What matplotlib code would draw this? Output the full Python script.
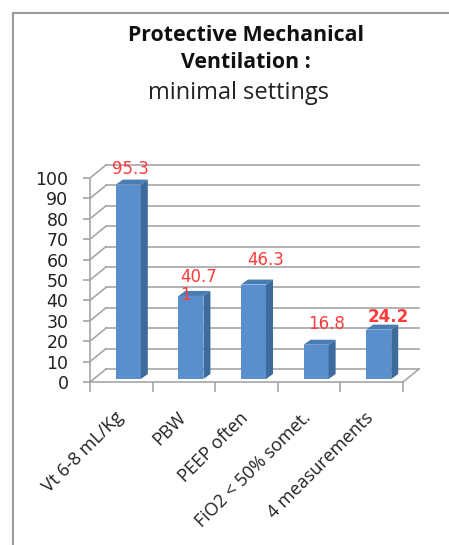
import matplotlib
matplotlib.use("Agg")
import matplotlib.pyplot as plt
from matplotlib.transforms import Affine2D, IdentityTransform
from matplotlib.patches import Polygon
from matplotlib.lines import Line2D
import numpy as np

plt.rcParams['font.family'] = ['Open Sans', 'DejaVu Sans']
NUM_FONT = ['DejaVu Sans']

# ---- data ----
categories = ["Vt 6-8 mL/Kg", "PBW", "PEEP often", "FiO2 < 50% somet.", "4 measurements"]
values = [95.3, 40.71, 46.3, 16.8, 24.2]
label_texts = ["95.3", "40.7\n1", "46.3", "16.8", "24.2"]
y_ticks = [0, 10, 20, 30, 40, 50, 60, 70, 80, 90, 100]
title_lines = ["Protective Mechanical", "Ventilation :", "minimal settings"]

# ---- style ----
W, H, DPI = 449, 545, 100
FRONT_COL = "#5A8FCE"
SIDE_COL = "#3D6B9C"
TOP_COL = "#4A7CB4"
GRID_COL = "#A6A6A6"
LABEL_COL = "#FF3B3B"
WALL_D = (16, 13)      # depth of side wall / floor in px
BAR_OFF = (7, 3)       # front face offset in px
BAR_D = (7, 5)         # bar depth in px
BAR_W = 0.4
# label offsets (px) relative to top-centre of bar front face; ha; weight
label_style = [((2, 16), 'center', 'normal'),
               ((2, 10), 'left', 'normal'),
               ((12, 25), 'center', 'normal'),
               ((10, 21), 'center', 'normal'),
               ((10, 13), 'center', 'bold')]

fig = plt.figure(figsize=(W / DPI, H / DPI), dpi=DPI)
x0, x1, yb, yt = 90, 403, 382, 178
ax = fig.add_axes([x0 / W, (H - yb) / H, (x1 - x0) / W, (yb - yt) / H])
n = len(categories)
ax.set_xlim(0, n)
ax.set_ylim(0, 100)
ax.patch.set_alpha(0)

for s in ['top', 'right']:
    ax.spines[s].set_visible(False)
for s in ['left', 'bottom']:
    ax.spines[s].set_color(GRID_COL)
    ax.spines[s].set_linewidth(1.2)

ax.set_yticks(y_ticks)
ax.set_yticklabels([str(v) for v in y_ticks], fontsize=12.5, color="#222222",
                   family=NUM_FONT)
ax.tick_params(axis='y', length=5, width=1.2, color=GRID_COL, pad=10.5)
ax.set_xticks(np.arange(n + 1))
ax.set_xticklabels([])
ax.tick_params(axis='x', which='major', length=7, width=1.2, color=GRID_COL)

# category labels, rotated 45 degrees below the floor
cat_trans = ax.get_xaxis_transform() + Affine2D().translate(-1, -33)
for i, c in enumerate(categories):
    ax.text(i + 0.5, 0, c, transform=cat_trans, rotation=45, ha='right',
            va='center', rotation_mode='anchor', fontsize=13, color="#222222",
            clip_on=False)

def shifted(dx, dy):
    return ax.transData + Affine2D().translate(dx, dy)

def disp(x, y, dx=0, dy=0):
    p = ax.transData.transform((x, y))
    return (p[0] + dx, p[1] + dy)

ident = IdentityTransform()

# walls: back gridlines and side wall diagonals
for v in y_ticks:
    ax.plot([0, n], [v, v], color=GRID_COL, lw=1.2, transform=shifted(*WALL_D),
            clip_on=False, zorder=1)
    a = disp(0, v)
    b = disp(0, v, *WALL_D)
    fig.add_artist(Line2D([a[0], b[0]], [a[1], b[1]], color=GRID_COL, lw=1.2,
                          transform=ident, zorder=1))
# floor right edge
a = disp(n, 0)
b = disp(n, 0, *WALL_D)
fig.add_artist(Line2D([a[0], b[0]], [a[1], b[1]], color=GRID_COL, lw=1.2,
                      transform=ident, zorder=1))

# bars
xc = np.arange(n) + 0.5
ax.bar(xc, values, width=BAR_W, color=FRONT_COL, transform=shifted(*BAR_OFF),
       clip_on=False, zorder=3, linewidth=0)
for i, v in enumerate(values):
    l, r = xc[i] - BAR_W / 2, xc[i] + BAR_W / 2
    fl_t = disp(l, v, *BAR_OFF); fr_t = disp(r, v, *BAR_OFF)
    fr_b = disp(r, 0, *BAR_OFF)
    d = np.array(BAR_D)
    side = [fr_b, fr_t, tuple(np.array(fr_t) + d), tuple(np.array(fr_b) + d)]
    top = [fl_t, fr_t, tuple(np.array(fr_t) + d), tuple(np.array(fl_t) + d)]
    fig.add_artist(Polygon(side, closed=True, facecolor=SIDE_COL, edgecolor='none',
                           transform=ident, zorder=3))
    fig.add_artist(Polygon(top, closed=True, facecolor=TOP_COL, edgecolor='none',
                           transform=ident, zorder=3))
    (ox, oy), ha, fw = label_style[i]
    px, py = disp(l if ha == 'left' else xc[i], v, BAR_OFF[0] + ox, BAR_OFF[1] + oy)
    fig.text(px / W, py / H, label_texts[i], ha=ha, va='center', color=LABEL_COL,
             fontsize=12, fontweight=fw, linespacing=1.05, zorder=6,
             family=NUM_FONT)

# title
fig.text(246 / W, 1 - 35 / H, title_lines[0], ha='center', va='center',
         fontsize=15.3, fontweight='bold', color="#111111")
fig.text(246 / W, 1 - 62 / H, title_lines[1], ha='center', va='center',
         fontsize=15.3, fontweight='bold', color="#111111")
fig.text(238 / W, 1 - 93 / H, title_lines[2], ha='center', va='center',
         fontsize=17, color="#222222")

# chart frame (left and top edges)
fig.add_artist(Line2D([13 / W, 13 / W], [0, 1 - 13 / H], color="#9A9A9A", lw=1.5,
                      transform=fig.transFigure))
fig.add_artist(Line2D([13 / W, 1], [1 - 13 / H, 1 - 13 / H], color="#9A9A9A", lw=1.5,
                      transform=fig.transFigure))

fig.savefig("out.png", dpi=DPI, facecolor="white")
